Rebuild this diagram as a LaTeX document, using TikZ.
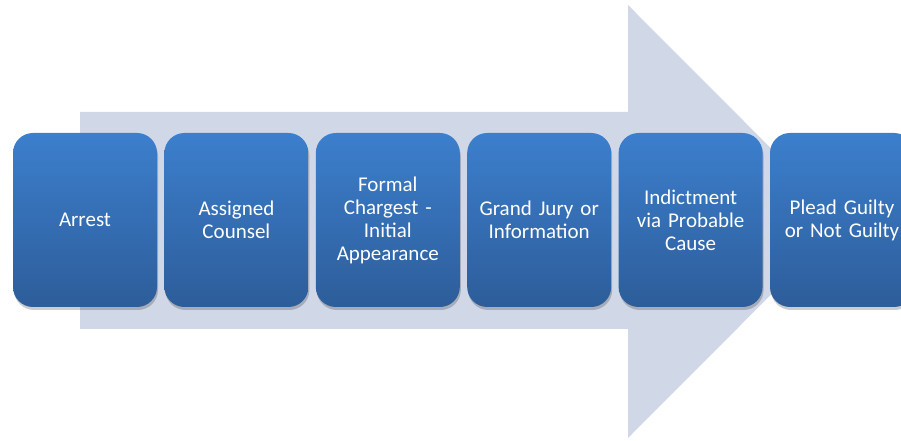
\documentclass[tikz,border=0pt]{standalone}
\usepackage{fontspec}
\setmainfont{Carlito}
\usetikzlibrary{positioning,shadows}
\definecolor{arrowfill}{HTML}{D0D8E8}
\definecolor{stagetop}{HTML}{3C7FCD}
\definecolor{stagebottom}{HTML}{2D5D9A}
\tikzset{
  stagebox/.style={rounded corners=20pt, minimum width=144pt, minimum height=174pt,
    inner sep=0pt, text width=140pt, align=center, text=white,
    top color=stagetop, bottom color=stagebottom,
    font=\fontsize{21}{23}\selectfont,
    drop shadow={shadow xshift=1pt, shadow yshift=-3pt, fill=black, opacity=0.2}},
}
\begin{document}
\begin{tikzpicture}[x=1pt,y=1pt]
    \useasboundingbox (0,0) rectangle (901,441);
    % big arrow behind the stages
    \fill[arrowfill] (80,329) -- (628,329) -- (628,436) -- (844,219.5)
        -- (628,3) -- (628,112) -- (80,112) -- cycle;
    % stages
    \node[stagebox] (arrest) at (85,221) {Arrest};
    \node[stagebox, right=7pt of arrest] (counsel) {Assigned\\Counsel};
    \node[stagebox, right=7pt of counsel] (charges) {Formal\\Chargest -\\Initial\\Appearance};
    \node[stagebox, right=7pt of charges] (jury) {Grand Jury or\\Information};
    \node[stagebox, right=7pt of jury] (indict) {Indictment\\via Probable\\Cause};
    \node[stagebox, right=7pt of indict] (plea) {Plead Guilty\\or Not Guilty};
\end{tikzpicture}
\end{document}
